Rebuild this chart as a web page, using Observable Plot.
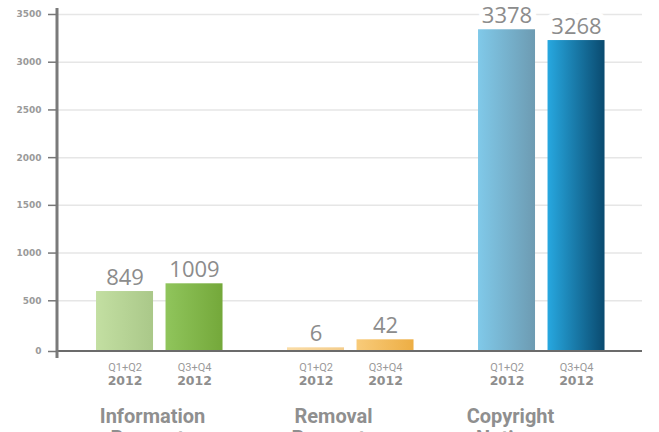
<!DOCTYPE html>
<html><head><meta charset="utf-8">
<script src="https://cdn.jsdelivr.net/npm/d3@7"></script>
<script src="https://cdn.jsdelivr.net/npm/@observablehq/plot@0.6"></script>
<style>
body{margin:0;background:#fff;}
g[aria-label="ytick-labels"] text{letter-spacing:1px;}
</style></head><body><div id="chart"></div>
<script>
// ---- data ----
const groupNames = ["Information Requests", "Removal Requests", "Copyright Notices"];
const periods = ["Q1+Q2", "Q3+Q4"];
const periodYear = "2012";
const labelValues = [[849, 1009], [6, 42], [3378, 3268]];      // printed numbers
const barHeights = [[597, 678], [7, 91], [3340, 3227]];         // drawn bar heights (axis units)
const yTicks = [0, 500, 1000, 1500, 2000, 2500, 3000, 3500];

// ---- styles ----
const barGradients = [
  [["#c3dfa2", "#aac889"], ["#90c55c", "#74a83a"]],
  [["#fadca6", "#f4cd8c"], ["#f8cb7a", "#edae44"]],
  [["#80c9e9", "#6d9bb2"], ["#27a8e0", "#0a4a6f"]]
];
const titleShift = [-0.5, -10.5, -24.5];

const rows = groupNames.flatMap((g, i) => periods.map((p, j) => ({
  group: g, period: p, height: barHeights[i][j], label: String(labelValues[i][j]),
  fill: `url(#grad-${i}-${j})`
})));
const tickRows = yTicks.map(v => ({group: groupNames[0], v}));
const lastRows = yTicks.map(v => ({group: groupNames[groupNames.length - 1], v}));

const W = 659, H = 450, mL = 57, mR = 17, fxOuter = 0.0314;
const panelW = (W - mL - mR) / (groupNames.length + 2 * fxOuter);
const ext = (W - mL - mR) - groupNames.length * panelW;
const tickFont = {fontSize: 9, fontWeight: "bold", fontFamily: "DejaVu Sans", fill: "#9a9a9a", ariaLabel: "ytick-labels"};
const gridStyle = {stroke: "#e6e6e6", strokeWidth: 1.5};
const baseStyle = {dy: 2.5, stroke: "#6b6b6b", strokeWidth: 2};

const svg = Plot.plot({
  width: W, height: H,
  marginLeft: mL, marginRight: mR, marginTop: 14, marginBottom: 102,
  style: {background: "white", overflow: "visible"},
  fx: {domain: groupNames, paddingInner: 0, paddingOuter: fxOuter, align: 0, round: false, axis: null, label: null},
  x: {domain: periods, paddingInner: 0.18, paddingOuter: 0.464, align: 0.605, round: false, axis: null, label: null},
  y: {domain: [0, 3500], axis: null, label: null},
  color: {type: "identity"},
  marks: [
    Plot.ruleY(yTicks.filter(d => d > 0), gridStyle),
    Plot.ruleY(lastRows.filter(d => d.v > 0), {fx: "group", y: "v", insetLeft: panelW, insetRight: -ext, ...gridStyle}),
    Plot.text(rows, {fx: "group", x: "period", y: "height", text: "label", lineAnchor: "bottom", dy: -7,
      fontSize: 22, fontFamily: "Open Sans", fill: "#8c8c8c", stroke: "white", strokeWidth: 12, strokeLinejoin: "round"}),
    Plot.barY(rows, {fx: "group", x: "period", y: "height", fill: "fill", insetBottom: -3}),
    Plot.ruleY([0], baseStyle),
    Plot.ruleY(lastRows.filter(d => d.v === 0), {fx: "group", y: "v", insetLeft: panelW, insetRight: -ext, ...baseStyle}),
    Plot.rect(tickRows.slice(0, 1), {fx: "group", y1: 0, y2: 3500, insetLeft: -1.5, insetRight: panelW - 1.5,
      insetTop: -6, insetBottom: -10, fill: "#7a7a7a"}),
    Plot.ruleY(tickRows.filter(d => d.v > 0), {fx: "group", y: "v", insetLeft: -9, insetRight: panelW, stroke: "#777", strokeWidth: 1.5}),
    Plot.ruleY(tickRows.filter(d => d.v === 0), {fx: "group", y: "v", dy: 3, insetLeft: -9, insetRight: panelW, stroke: "#777", strokeWidth: 1.5}),
    Plot.text(tickRows.filter(d => d.v > 0), {fx: "group", y: "v", text: d => String(d.v), frameAnchor: "left", textAnchor: "end", dx: -16, ...tickFont}),
    Plot.text(tickRows.filter(d => d.v === 0), {fx: "group", y: "v", text: d => String(d.v), frameAnchor: "left", textAnchor: "end", dx: -16, dy: 3, ...tickFont}),
    Plot.text(rows, {fx: "group", x: "period", text: "period", frameAnchor: "bottom", lineAnchor: "bottom", dy: 22,
      fontSize: 11, fontFamily: "Roboto", fill: "#9a9a9a"}),
    Plot.text(rows, {fx: "group", x: "period", text: () => periodYear, frameAnchor: "bottom", lineAnchor: "bottom", dy: 36,
      fontSize: 12.5, fontWeight: "bold", fontFamily: "DejaVu Sans", fill: "#8e8e8e"}),
    ...groupNames.map((g, i) => Plot.text([g], {fx: d => d, text: d => d.replace(" ", "\n"), frameAnchor: "bottom", lineAnchor: "top",
      dy: 59, dx: titleShift[i], lineHeight: 1.1, fontSize: 20, fontWeight: "bold", fontFamily: "Roboto", fill: "#8f8f8f"}))
  ]
});

const ns = "http://www.w3.org/2000/svg";
const defs = document.createElementNS(ns, "defs");
barGradients.forEach((grp, i) => grp.forEach((c, j) => {
  const lg = document.createElementNS(ns, "linearGradient");
  lg.setAttribute("id", `grad-${i}-${j}`);
  lg.setAttribute("x1", "0"); lg.setAttribute("x2", "1"); lg.setAttribute("y1", "0"); lg.setAttribute("y2", "0");
  [[0, c[0]], [1, c[1]]].forEach(([o, col]) => {
    const s = document.createElementNS(ns, "stop");
    s.setAttribute("offset", o); s.setAttribute("stop-color", col);
    lg.appendChild(s);
  });
  defs.appendChild(lg);
}));
svg.insertBefore(defs, svg.firstChild);
document.getElementById("chart").appendChild(svg);
</script></body></html>
